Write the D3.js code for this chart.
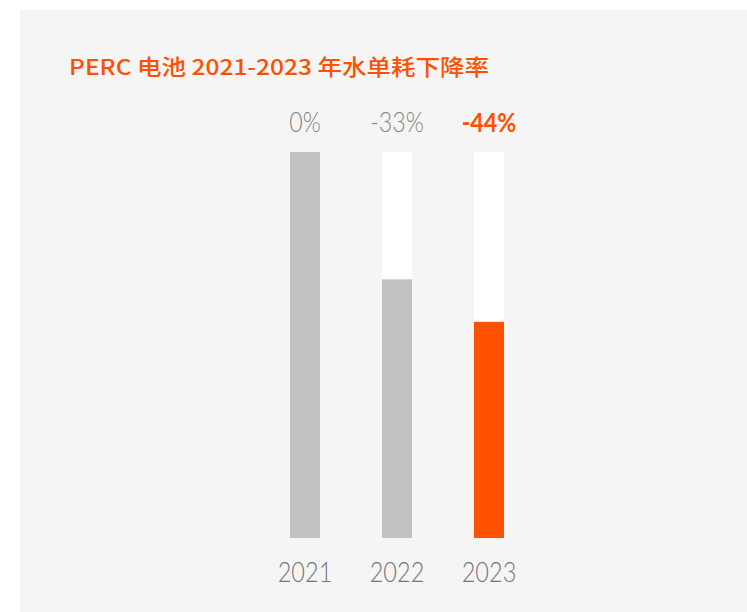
<!DOCTYPE html>
<html>
<head>
<meta charset="utf-8">
<script src="https://cdn.jsdelivr.net/npm/d3@7"></script>
<style>
  html, body { margin: 0; padding: 0; background: #ffffff; }
  svg { display: block; }
</style>
</head>
<body>
<svg id="chart" width="747" height="612"></svg>
<script>
// Water consumption per unit, PERC cells, relative to 2021
const years = ["2021", "2022", "2023"];
const changes = [0, -0.33, -0.44];
const valueLabels = ["0%", "-33%", "-44%"];
const highlightYear = "2023";
const titleText = "PERC 电池 2021-2023 年水单耗下降率";

const W = 747, H = 612;
const svg = d3.select("#chart");

const orange = "#ff5000";
const gray = "#c0c1c0";

// squeeze a text element horizontally to a fraction of its natural width
function condense(sel, factor) {
  sel.each(function () {
    const w = this.getComputedTextLength();
    d3.select(this)
      .attr("textLength", w * factor)
      .attr("lengthAdjust", "spacingAndGlyphs");
  });
}

// panel
svg.append("rect")
  .attr("x", 20).attr("y", 10)
  .attr("width", W - 20).attr("height", H - 10)
  .attr("fill", "#f5f5f5");

// title
svg.append("text")
  .attr("x", 69).attr("y", 75)
  .attr("fill", orange)
  .attr("font-family", "'Noto Sans CJK SC', 'Noto Sans', sans-serif")
  .attr("font-weight", 500)
  .attr("font-size", 22)
  .attr("textLength", 420)
  .attr("lengthAdjust", "spacingAndGlyphs")
  .text(titleText);

// scales
const x = d3.scaleBand()
  .domain(years)
  .range([259, 535])
  .paddingInner(0.674)
  .paddingOuter(0.337);

const y = d3.scaleLinear()
  .domain([0, 1])
  .range([538, 152]);

const rows = years.map((yr, i) => ({ year: yr, level: 1 + changes[i], label: valueLabels[i] }));

// full-height track behind each bar
svg.append("g").selectAll("rect")
  .data(rows)
  .join("rect")
  .attr("x", d => x(d.year))
  .attr("width", x.bandwidth())
  .attr("y", y(1))
  .attr("height", y(0) - y(1))
  .attr("fill", "#ffffff");

// remaining level after reduction
svg.append("g").selectAll("rect")
  .data(rows)
  .join("rect")
  .attr("x", d => x(d.year))
  .attr("width", x.bandwidth())
  .attr("y", d => y(d.level))
  .attr("height", d => y(0) - y(d.level))
  .attr("fill", d => d.year === highlightYear ? orange : gray);

// value labels
svg.append("g").selectAll("text")
  .data(rows)
  .join("text")
  .attr("x", d => x(d.year) + x.bandwidth() / 2)
  .attr("y", 132)
  .attr("text-anchor", "middle")
  .attr("font-family", "Lato, Roboto, sans-serif")
  .attr("font-size", 27)
  .attr("font-weight", d => d.year === highlightYear ? 700 : 300)
  .attr("fill", d => d.year === highlightYear ? orange : "#858585")
  .text(d => d.label)
  .call(condense, 0.86);

// category axis
const xAxis = svg.append("g")
  .attr("transform", `translate(0,${y(0)})`)
  .call(d3.axisBottom(x).tickSize(0).tickPadding(0));
xAxis.select(".domain").remove();
xAxis.selectAll("text")
  .attr("dy", 0)
  .attr("y", 44)
  .attr("font-family", "Lato, Roboto, sans-serif")
  .attr("font-size", 28)
  .attr("font-weight", 300)
  .attr("fill", "#767676")
  .call(condense, 0.84);
</script>
</body>
</html>
